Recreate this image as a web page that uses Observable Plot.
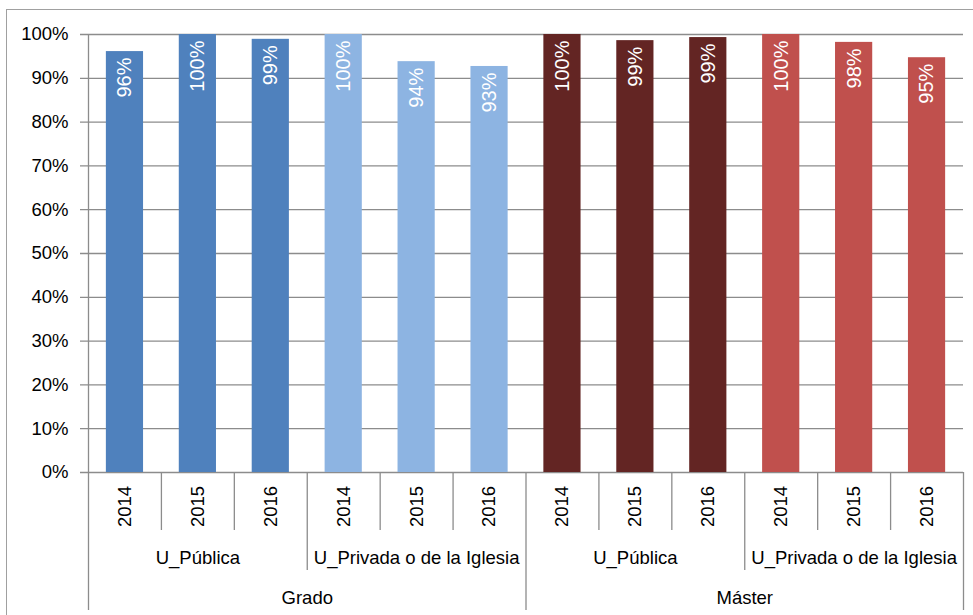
<!DOCTYPE html>
<html><head><meta charset="utf-8">
<script src="https://cdn.jsdelivr.net/npm/d3@7"></script>
<script src="https://cdn.jsdelivr.net/npm/@observablehq/plot@0.6"></script>
<style>
html,body{margin:0;padding:0;background:#fff;overflow:hidden;width:973px;height:615px}
#frame{position:absolute;left:6px;top:9px;width:2000px;height:2000px;border:1.6px solid #a0a0a0;box-sizing:border-box}
#chart{position:absolute;left:0;top:0}
</style></head><body>
<div id="frame"></div><div id="chart"></div>
<script>
const levels = ["Grado", "Máster"];
const universities = ["U_Pública", "U_Privada o de la Iglesia"];
const years = ["2014", "2015", "2016"];
const gradoPublica = [0.961, 1.0, 0.989];
const gradoPrivada = [1.0, 0.938, 0.927];
const masterPublica = [1.0, 0.986, 0.993];
const masterPrivada = [1.0, 0.982, 0.947];
const seriesNames = ["Grado U_Pública", "Grado U_Privada", "Máster U_Pública", "Máster U_Privada"];
const seriesColors = ["#4F81BD", "#8DB4E2", "#632523", "#C0504D"];
const yTicks = [0, 0.1, 0.2, 0.3, 0.4, 0.5, 0.6, 0.7, 0.8, 0.9, 1.0];

const seriesValues = [gradoPublica, gradoPrivada, masterPublica, masterPrivada];
const rows = [];
levels.forEach((level, li) => {
  universities.forEach((uni, ui) => {
    const s = li * 2 + ui;
    years.forEach((year, yi) => {
      rows.push({
        key: level + "|" + uni + "|" + year,
        level, uni, year,
        series: seriesNames[s],
        value: seriesValues[s][yi],
        idx: rows.length
      });
    });
  });
});
const keys = rows.map(d => d.key);

const W = 973, H = 615, ML = 88, MR = 10, MT = 34, MB = 143;
const step = (W - ML - MR) / keys.length;
const font = "'Liberation Sans', Arial, sans-serif";
const gray = "#8c8c8c";

const chart = Plot.plot({
  width: W, height: H,
  marginLeft: ML, marginRight: MR, marginTop: MT, marginBottom: MB,
  style: {fontFamily: font, fontSize: "18.5px", color: "#000", background: "transparent", overflow: "visible"},
  x: {type: "band", domain: keys, paddingInner: 0.49, paddingOuter: 0.245, round: false, axis: null},
  y: {domain: [0, 1], axis: null},
  color: {type: "ordinal", domain: seriesNames, range: seriesColors},
  marks: [
    Plot.ruleY(yTicks, {y: d => d, stroke: gray, strokeWidth: 1.3, insetLeft: -8}),
    Plot.barY(rows, {x: "key", y: "value", fill: "series"}),
    Plot.text(rows, {x: "key", y: "value", text: d => Math.round(d.value * 100) + "%", rotate: -90, textAnchor: "end", dy: 6, fill: "white", fontSize: 20}),
    Plot.text(yTicks, {y: d => d, frameAnchor: "left", textAnchor: "end", dx: -20, text: d => Math.round(d * 100) + "%", fill: "#000", fontSize: 18.5}),
    // y axis line
    Plot.ruleX([keys[0]], {x: d => d, y1: 1, y2: 0, dx: -step / 2, insetBottom: -138, stroke: gray, strokeWidth: 1.3}),
    // separators
    Plot.ruleX(rows.filter(d => d.idx % 3 !== 0), {x: "key", y1: 0, y2: 0, dx: -step / 2, insetBottom: -58, stroke: gray, strokeWidth: 1.3}),
    Plot.ruleX(rows.filter(d => d.idx % 3 === 0 && d.idx % 6 !== 0), {x: "key", y1: 0, y2: 0, dx: -step / 2, insetBottom: -98, stroke: gray, strokeWidth: 1.3}),
    Plot.ruleX(rows.filter(d => d.idx % 6 === 0 && d.idx > 0), {x: "key", y1: 0, y2: 0, dx: -step / 2, insetBottom: -138, stroke: gray, strokeWidth: 1.3}),
    Plot.ruleX([keys[keys.length - 1]], {x: d => d, y1: 0, y2: 0, dx: step / 2, insetBottom: -138, stroke: gray, strokeWidth: 1.3}),
    // category labels
    Plot.text(rows, {x: "key", y: 0, text: "year", rotate: -90, dy: 34, fill: "#000", fontSize: 18.5}),
    Plot.text(rows.filter(d => d.year === years[1]), {x: "key", y: 0, text: "uni", dy: 86, fill: "#000", fontSize: 18.5}),
    Plot.text(rows.filter(d => d.uni === universities[1] && d.year === years[0]), {x: "key", y: 0, text: "level", dx: -step / 2, dy: 126, fill: "#000", fontSize: 18.5})
  ]
});
document.getElementById("chart").appendChild(chart);
</script>
</body></html>
